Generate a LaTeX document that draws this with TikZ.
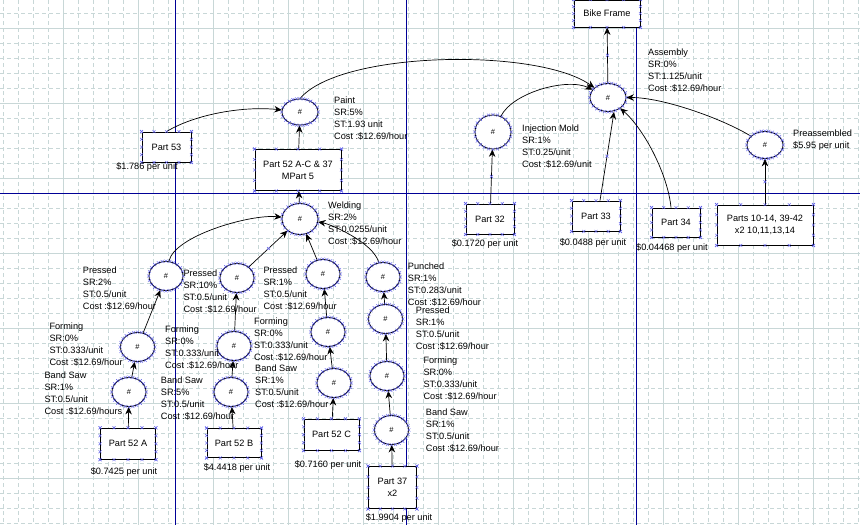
\documentclass[tikz,border=0pt]{standalone}
\usepackage{fontspec}
\setmainfont{Liberation Sans}
\usetikzlibrary{arrows.meta, calc, shapes.geometric}

\definecolor{gridcol}{RGB}{200,215,215}
\definecolor{pgcol}{RGB}{0,0,150}
\definecolor{selcol}{RGB}{95,95,235}

% selection handles round a node
\newcommand{\selell}[1]{\foreach \ang in {0,15,...,345}{\pic at (#1.\ang) {xm};}}
\newcommand{\selbox}[1]{\foreach \fr in {0,0.25,0.5,0.75,1}{%
  \pic at ($(#1.north west)!\fr!(#1.north east)$) {xm};
  \pic at ($(#1.south west)!\fr!(#1.south east)$) {xm};
  \pic at ($(#1.north west)!\fr!(#1.south west)$) {xm};
  \pic at ($(#1.north east)!\fr!(#1.south east)$) {xm};}}

\begin{document}
\begin{tikzpicture}[x=1pt, y=-1pt,
  op/.style={ellipse, draw, fill=white, line width=0.8pt, minimum width=34pt,
             minimum height=29pt, inner sep=0pt, font=\fontsize{7.5}{9}\selectfont},
  part/.style={rectangle, draw, fill=white, line width=0.9pt, align=center,
               minimum width=48pt, minimum height=30pt, inner sep=0pt,
               font=\fontsize{9.2}{12}\selectfont},
  info/.style={anchor=north west, align=left, inner sep=0pt, font=\fontsize{9.2}{12}\selectfont},
  cost/.style={inner sep=0pt, font=\fontsize{9.2}{12}\selectfont},
  arr/.style={-{Stealth[length=7.5pt,width=6.5pt]}, line width=0.7pt},
  gridmin/.style={gridcol, line width=0.8pt, dash pattern=on 4pt off 3pt},
  gridmaj/.style={gridcol, line width=0.8pt},
  pgbrk/.style={pgcol, line width=0.9pt},
  selx/.style={selcol, line width=0.4pt},
  xm/.pic={\draw[selx] (-1.5,-1.5) -- (1.5,1.5) (-1.5,1.5) -- (1.5,-1.5);}
]
  \useasboundingbox (0,0) rectangle (860,525);
  \clip (0,0) rectangle (860,525);
  \fill[white] (0,0) rectangle (860,525);

  % grid
  \foreach \k in {0,...,57} \draw[gridmin] ({3.3+15*\k},0) -- ({3.3+15*\k},525);
  \foreach \k in {0,...,34} \draw[gridmin] (0,{13.3+15*\k}) -- (860,{13.3+15*\k});
  \foreach \k in {0,...,10} \draw[gridmaj] ({63.3+75*\k},0) -- ({63.3+75*\k},525);
  \foreach \k in {0,...,6} \draw[gridmaj] (0,{28.3+75*\k}) -- (860,{28.3+75*\k});

  % page breaks
  \draw[pgbrk] (175.5,0) -- (175.5,525);
  \draw[pgbrk] (406.7,0) -- (406.7,525);
  \draw[pgbrk] (636.7,0) -- (636.7,525);
  \draw[pgbrk] (0,193.3) -- (860,193.3);

  % upper part
  \node[part, minimum width=66pt, minimum height=27pt] (bike) at (607,13.5) {Bike Frame};
  \node[op, minimum width=36pt, minimum height=28pt] (asm) at (608,97.5) {\#};
  \node[op, minimum width=36pt, minimum height=34pt] (inj) at (493,132) {\#};
  \node[op, minimum width=36pt, minimum height=27pt] (pre) at (765,145) {\#};
  \node[op, minimum width=36pt, minimum height=26pt] (paint) at (300,112) {\#};
  \node[part, minimum width=49pt] (p53) at (166.5,147) {Part 53};
  \node[part, minimum width=86pt, minimum height=41pt] (p52) at (298,170) {Part 52 A-C \& 37\\MPart 5};
  \node[op, minimum width=36pt, minimum height=31pt] (weld) at (300,219) {\#};
  \node[part] (p32) at (490,219) {Part 32};
  \node[part] (p33) at (596,216) {Part 33};
  \node[part, minimum height=29pt] (p34) at (676,222.5) {Part 34};
  \node[part, minimum width=96pt, minimum height=40pt] (p10) at (765,225) {Parts 10-14, 39-42\\x2 10,11,13,14};

  % lower part
  \node[op] (prA) at (166,276) {\#};
  \node[op] (foA) at (137.5,347) {\#};
  \node[op] (bsA) at (129,392) {\#};
  \node[part, minimum width=55pt, minimum height=31pt] (p52a) at (128,443.7) {Part 52 A};
  \node[op] (prB) at (237,278) {\#};
  \node[op] (foB) at (234,346) {\#};
  \node[op] (bsB) at (231,392) {\#};
  \node[part, minimum width=54pt, minimum height=29pt] (p52b) at (234,443) {Part 52 B};
  \node[op] (prC) at (323,274) {\#};
  \node[op] (foC) at (328,332) {\#};
  \node[op] (bsC) at (334,383) {\#};
  \node[part, minimum width=55pt, minimum height=31pt] (p52c) at (331.5,434.7) {Part 52 C};
  \node[op] (pun) at (383,277) {\#};
  \node[op] (prD) at (385.5,319) {\#};
  \node[op] (foD) at (387,376) {\#};
  \node[op] (bsD) at (391.5,430) {\#};
  \node[part, minimum height=42pt] (p37) at (392.5,487.5) {Part 37\\x2};

  % connectors
  \draw[arr] (asm) -- (bike);
  \draw[arr] (paint.north) .. controls +(40,-48) and +(-70,-50) .. (asm);
  \draw[arr] (inj) .. controls +(20,-40) and +(-40,-20) .. (asm);
  \draw[arr] ([xshift=4pt]p33.north) -- ([xshift=6pt]asm.south);
  \draw[arr] ([xshift=-5pt]p34.north) .. controls +(-3,-32) and +(37,32.5) .. (asm);
  \draw[arr] (pre) .. controls +(-40,-25) and +(38,0) .. (asm.east);
  \draw[arr] (p10) -- (pre);
  \draw[arr] (p32) -- (inj);
  \draw[arr] (p53.north) .. controls +(30,-18) and +(-55,-6) .. (paint);
  \draw[arr] (p52) -- (paint);
  \draw[arr] (weld) -- (p52);
  \draw[arr] (prA) .. controls +(8,-40) and +(-50,-5) .. (weld);
  \draw[arr] (foA) -- (prA);
  \draw[arr] (bsA) -- (foA);
  \draw[arr] (p52a) -- (bsA);
  \draw[arr] (prB) -- (weld);
  \draw[arr] (foB) -- (prB);
  \draw[arr] (bsB) -- (foB);
  \draw[arr] (p52b) -- (bsB);
  \draw[arr] (prC) -- (weld);
  \draw[arr] (foC) -- (prC);
  \draw[arr] (bsC) -- (foC);
  \draw[arr] (p52c) -- (bsC);
  \draw[arr] (pun) .. controls +(-10,-35) and +(30,5) .. (weld);
  \draw[arr] (prD) -- (pun);
  \draw[arr] (foD) -- (prD);
  \draw[arr] (bsD) -- (foD);
  \draw[arr] (p37) -- (bsD);

  % handles on connectors and nodes
  \pic at ($(asm.north)!.5!(bike.south)$) {xm};
  \pic at ($([xshift=4pt]p33.north)!.5!([xshift=6pt]asm.south)$) {xm};
  \pic at ($(p10.north)!.5!(pre.south)$) {xm};
  \pic at ($(p32.north)!.5!(inj.south)$) {xm};
  \pic at ($(prB)!.5!(weld)$) {xm};
  \foreach \n in {asm,inj,pre,paint,weld,prA,foA,bsA,prB,foB,bsB,prC,foC,bsC,pun,prD,foD,bsD}
    \selell{\n};
  \foreach \n in {bike,p53,p52,p32,p33,p34,p10,p52a,p52b,p52c,p37}
    \selbox{\n};

  % process labels
  \node[info] (lasm) at (648,48.5) {Assembly\\SR:0\%\\ST:1.125/unit\\Cost :\$12.69/hour};
  \node[info] (linj) at (522,124.5) {Injection Mold\\SR:1\%\\ST:0.25/unit\\Cost :\$12.69/unit};
  \node[info] (lpre) at (793,129.5) {Preassembled\\\$5.95 per unit};
  \node[info] (lpaint) at (334,96.5) {Paint\\SR:5\%\\ST:1.93 unit\\Cost :\$12.69/hour};
  \node[info] (lweld) at (328,202) {Welding\\SR:2\%\\ST:0.0255/unit\\Cost :\$12.69/hour};
  \node[info] (lprA) at (82.7,266.5) {Pressed\\SR:2\%\\ST:0.5/unit\\Cost :\$12.69/hour};
  \node[info] (lfoA) at (49.3,322.5) {Forming\\SR:0\%\\ST:0.333/unit\\Cost :\$12.69/hour};
  \node[info] (lbsA) at (44.3,372) {Band Saw\\SR:1\%\\ST:0.5/unit\\Cost :\$12.69/hours};
  \node[info] (lprB) at (183.3,270) {Pressed\\SR:10\%\\ST:0.5/unit\\Cost :\$12.69/hour};
  \node[info] (lfoB) at (165,326) {Forming\\SR:0\%\\ST:0.333/unit\\Cost :\$12.69/hour};
  \node[info] (lbsB) at (160.7,377) {Band Saw\\SR:5\%\\ST:0.5/unit\\Cost :\$12.69/hour};
  \node[info] (lprC) at (263.3,266.5) {Pressed\\SR:1\%\\ST:0.5/unit\\Cost :\$12.69/hour};
  \node[info] (lfoC) at (254,317.5) {Forming\\SR:0\%\\ST:0.333/unit\\Cost :\$12.69/hour};
  \node[info] (lbsC) at (255,364.5) {Band Saw\\SR:1\%\\ST:0.5/unit\\Cost :\$12.69/hour};
  \node[info] (lpun) at (407.7,263) {Punched\\SR:1\%\\ST:0.283/unit\\Cost :\$12.69/hour};
  \node[info] (lprD) at (415.7,306.5) {Pressed\\SR:1\%\\ST:0.5/unit\\Cost :\$12.69/hour};
  \node[info] (lfoD) at (423.3,356.5) {Forming\\SR:0\%\\ST:0.333/unit\\Cost :\$12.69/hour};
  \node[info] (lbsD) at (425.7,409) {Band Saw\\SR:1\%\\ST:0.5/unit\\Cost :\$12.69/hour};

  % part costs
  \node[cost] (c53) at (147,167) {\$1.786 per unit};
  \node[cost] (c32) at (485,244) {\$0.1720 per unit};
  \node[cost] (c33) at (593,243) {\$0.0488 per unit};
  \node[cost] (c34) at (672,248) {\$0.04468 per unit};
  \node[cost] (c52a) at (124,471.7) {\$0.7425 per unit};
  \node[cost] (c52b) at (237,467.7) {\$4.4418 per unit};
  \node[cost] (c52c) at (328,465) {\$0.7160 per unit};
  \node[cost] (c37) at (399,517.7) {\$1.9904 per unit};
\end{tikzpicture}
\end{document}
